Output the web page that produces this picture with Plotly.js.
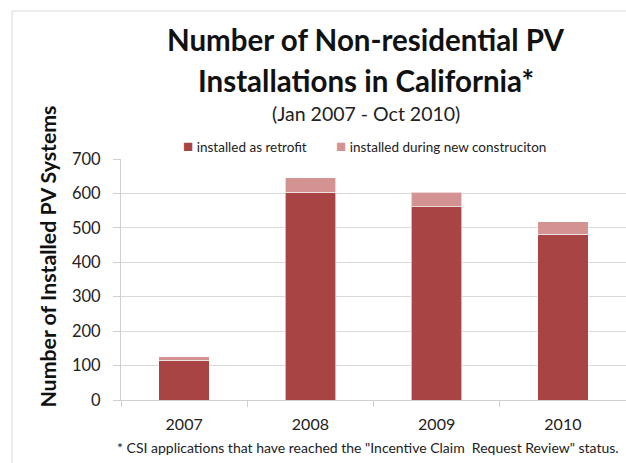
<!DOCTYPE html>
<html>
<head>
<meta charset="utf-8">
<script src="https://cdn.plot.ly/plotly-3.0.1.min.js"></script>
<style>
html,body{margin:0;padding:0;background:#fff;overflow:hidden;}
#chart{width:626px;height:463px;}
</style>
</head>
<body>
<div id="chart"></div>
<script>
const years = ["2007", "2008", "2009", "2010"];
const retrofit = [115, 603, 561, 482];
const newConstruction = [10, 43, 42, 36];
const seriesNames = ["installed as retrofit", "installed during new construciton"];
const yTicks = [0, 100, 200, 300, 400, 500, 600, 700];

const colRetro = "#A84544";
const colNew = "#D49393";
const font = "Lato, 'Open Sans', sans-serif";

const traces = [
  {type: "bar", x: years, y: retrofit, name: seriesNames[0],
   marker: {color: colRetro, line: {color: "rgba(255,255,255,0.6)", width: 1}}, showlegend: false, hoverinfo: "y"},
  {type: "bar", x: years, y: newConstruction, name: seriesNames[1],
   marker: {color: colNew, line: {color: "rgba(255,255,255,0.6)", width: 1}}, showlegend: false, hoverinfo: "y"}
];

const layout = {
  width: 626, height: 463,
  margin: {l: 121, r: 0, t: 159, b: 63},
  paper_bgcolor: "#fff", plot_bgcolor: "#fff",
  barmode: "stack", bargap: 0.6,
  font: {family: font, color: "#222"},
  xaxis: {
    type: "category", tickson: "boundaries", ticks: "outside", ticklen: 6,
    tickcolor: "#d0d0d0", showline: true, linecolor: "#d0d0d0", linewidth: 1,
    showgrid: false, ticklabelstandoff: 10,
    tickfont: {size: 16, family: font, color: "#222"}, fixedrange: true
  },
  yaxis: {
    range: [0, 700], tickvals: yTicks, ticks: "outside", ticklen: 7, tickcolor: "#d0d0d0",
    showline: true, linecolor: "#d0d0d0", linewidth: 1,
    gridcolor: "#d9d9d9", gridwidth: 1, zeroline: false, ticklabelstandoff: 9,
    tickfont: {size: 16.5, family: font, color: "#222"}, fixedrange: true
  },
  shapes: [
    {type: "path", xref: "paper", yref: "paper",
     path: "M -0.2158,-0.4 L -0.2158,1.614 L 1.05,1.614",
     line: {color: "#d9d9d9", width: 1}, layer: "below"}
  ],
  annotations: [
    {text: "<b>Number of Non-residential PV</b>", xref: "paper", yref: "paper",
     x: 0.485, y: 1.494, showarrow: false, xanchor: "center", yanchor: "middle",
     font: {size: 29.5, family: font, color: "#111"}},
    {text: "<b>Installations in California*</b>", xref: "paper", yref: "paper",
     x: 0.485, y: 1.3237, showarrow: false, xanchor: "center", yanchor: "middle",
     font: {size: 29.5, family: font, color: "#111"}},
    {text: "(Jan 2007 - Oct 2010)", xref: "paper", yref: "paper", x: 0.485, y: 1.19,
     showarrow: false, xanchor: "center", yanchor: "middle", font: {size: 19.5, family: font, color: "#222"}},
    {text: '<span style="color:' + colRetro + ';font-size:17px">■</span> ' + seriesNames[0], xref: "paper", yref: "paper",
     x: (181 - 121) / 505, y: 1.058, showarrow: false, xanchor: "left", yanchor: "middle",
     font: {size: 13.5, family: font, color: "#222"}},
    {text: '<span style="color:' + colNew + ';font-size:17px">■</span> ' + seriesNames[1], xref: "paper", yref: "paper",
     x: (334 - 121) / 505, y: 1.058, showarrow: false, xanchor: "left", yanchor: "middle",
     font: {size: 13.5, family: font, color: "#222"}},
    {text: "<b>Number of Installed PV Systems</b>", xref: "paper", yref: "paper", x: -0.1446, y: 0.595,
     textangle: -90, showarrow: false, xanchor: "center", yanchor: "middle",
     font: {size: 21.3, family: font, color: "#111"}},
    {text: '* CSI applications that have reached the "Incentive Claim  Request Review" status.', xref: "paper", yref: "paper",
     x: 0.489, y: -0.199, showarrow: false, xanchor: "center", yanchor: "middle",
     font: {size: 14, family: font, color: "#222"}}
  ]
};

Plotly.newPlot("chart", traces, layout, {displayModeBar: false, staticPlot: true});
</script>
</body>
</html>
